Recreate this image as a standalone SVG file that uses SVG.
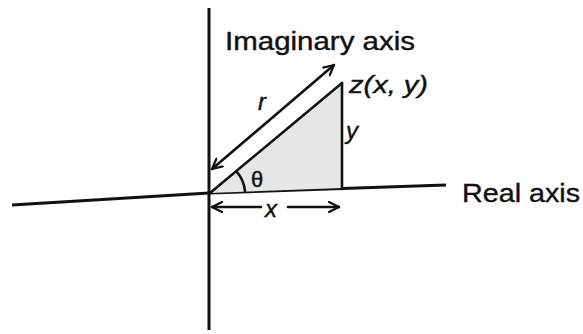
<svg xmlns="http://www.w3.org/2000/svg" width="583" height="334" viewBox="0 0 583 334">
<style>
.ax{stroke:#111;stroke-width:3;fill:none}
.ln{stroke:#111;stroke-width:2.6;fill:none;stroke-linecap:round}
.lbl{font-family:"Liberation Sans",Arial,sans-serif;fill:#111;stroke:#111;stroke-width:0.4}
.it{font-family:"Liberation Sans",Arial,sans-serif;font-style:italic;fill:#111;stroke:#111;stroke-width:0.4}
</style>
<defs>
<marker id="ah" viewBox="0 0 12 12" refX="11" refY="6" markerWidth="12" markerHeight="12" markerUnits="userSpaceOnUse" orient="auto-start-reverse">
<path d="M1,1 L11,6 L1,11" fill="none" stroke="#111" stroke-width="2.2" stroke-linecap="round" stroke-linejoin="round"/>
</marker>
</defs>
<rect width="583" height="334" fill="#fff"/>
<g id="axes">
<polyline class="ax" points="12,205 209,193 446,185"/>
<line class="ax" x1="209" y1="8" x2="209" y2="330"/>
</g>
<g id="triangle">
<polygon points="210,193 342,83 342,188" fill="#e6e6e6" stroke="none"/>
<line class="ln" x1="210" y1="193" x2="342" y2="83"/>
<line class="ln" x1="342" y1="83" x2="342" y2="189"/>
</g>
<g id="connectors">
<line class="ln" x1="212" y1="169" x2="334" y2="65" marker-start="url(#ah)" marker-end="url(#ah)"/>
<path class="ln" d="M237,172 A35,35 0 0 1 245,191" stroke-width="2.2"/>
<line class="ln" x1="212" y1="207" x2="261" y2="207" marker-start="url(#ah)"/>
<line class="ln" x1="288" y1="207" x2="339" y2="207" marker-end="url(#ah)"/>
</g>
<g id="labels">
<text class="lbl" x="225" y="50" font-size="25" textLength="190" lengthAdjust="spacingAndGlyphs">Imaginary axis</text>
<text class="lbl" x="462" y="202" font-size="26" textLength="118" lengthAdjust="spacingAndGlyphs">Real axis</text>
<text class="it" x="349" y="93" font-size="24" textLength="79" lengthAdjust="spacingAndGlyphs">z(x, y)</text>
<text class="it" x="346" y="139" font-size="24">y</text>
<text class="it" x="258" y="110" font-size="24">r</text>
<text class="lbl" x="251" y="187" font-size="22">θ</text>
<text class="it" x="265" y="217" font-size="24">x</text>
</g>
</svg>
